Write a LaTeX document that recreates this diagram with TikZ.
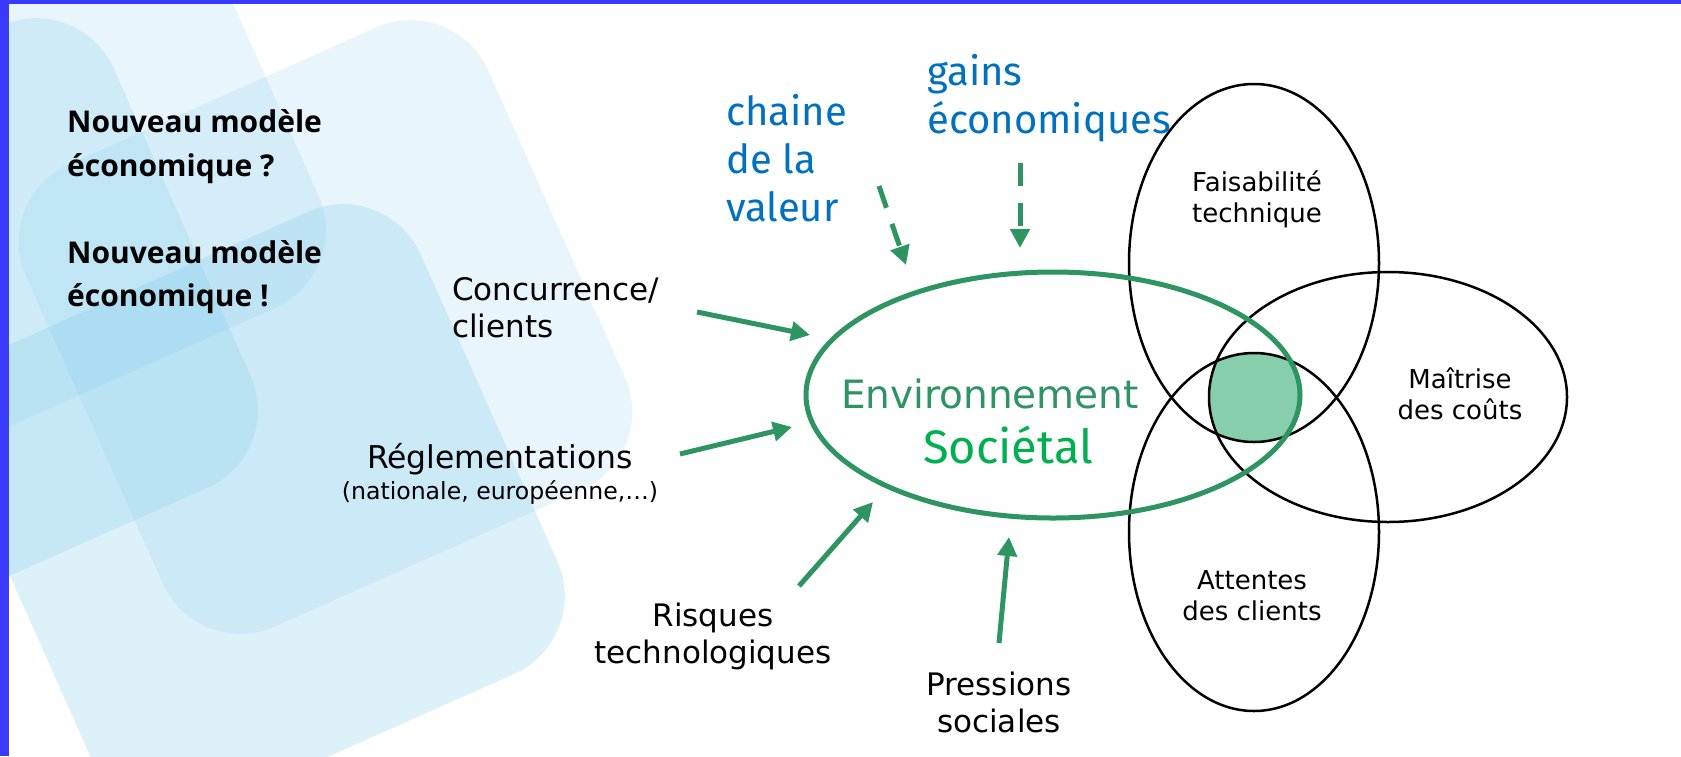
\documentclass[tikz,border=0pt]{standalone}
\usepackage{fontspec}
\setmainfont{DejaVu Sans}
\newfontfamily\firafont{Fira Sans}
\newfontfamily\boldfam{Open Sans}
\usetikzlibrary{arrows.meta}
\definecolor{framebl}{HTML}{3A3AFF}
\definecolor{deco}{HTML}{78C8EB}
\definecolor{arrgreen}{HTML}{2E9461}
\definecolor{socgreen}{HTML}{00B050}
\definecolor{fillgreen}{HTML}{86CEAC}
\definecolor{txtblue}{HTML}{0070C0}
\newcommand\cstack[1]{\vtop{\halign{\hfil##\hfil\cr#1\crcr}}}
\newcommand\lstack[1]{\vtop{\halign{##\hfil\cr#1\crcr}}}
\tikzset{
  decosq/.style={fill=deco, fill opacity=#1, rounded corners=85pt},
  venn/.style={draw=black, line width=2.5pt},
  envring/.style={draw=arrgreen, line width=5pt},
  push/.style={draw=arrgreen, line width=5pt, -{Triangle[length=19pt,width=19pt]}},
  dpush/.style={push, dash pattern=on 23pt off 17pt},
  lbl/.style={inner sep=0pt, font=\fontsize{31}{37}\selectfont},
  small/.style={inner sep=0pt, font=\fontsize{23.6}{31}\selectfont},
  vlbl/.style={inner sep=0pt, font=\fontsize{26}{31}\selectfont},
  bluelbl/.style={inner sep=0pt, text=txtblue, font=\firafont\fontsize{40}{48}\selectfont},
  boldlbl/.style={inner sep=0pt, font=\boldfam\bfseries\fontsize{30}{43.5}\selectfont},
}
\begin{document}
\begin{tikzpicture}[x=1pt,y=-1pt]
\useasboundingbox (0,0) rectangle (1681,756);
\fill[white] (0,0) rectangle (1681,756);
% background decoration: translucent rotated rounded squares
\begin{scope}
\clip (8,4) rectangle (1681,756);
\foreach \cx/\cy/\op in {19/145/0.165, -49/325/0.22, 325.5/327/0.165, 258/511/0.25} {
  \fill[decosq=\op, shift={(\cx,\cy)}, rotate=24] (-253,-253) rectangle (253,253);
}
\end{scope}
\fill[framebl] (0,0) rectangle (8.5,756);
\fill[framebl] (0,0) rectangle (1681,4);

% left titles
\node[boldlbl, anchor=base west] (q1) at (67,132.6) {\lstack{Nouveau modèle\cr économique ?}};
\node[boldlbl, anchor=base west] (q2) at (67,263) {\lstack{Nouveau modèle\cr économique !}};

% Venn intersection fill
\begin{scope}
\clip (1254,263) ellipse [x radius=125, y radius=179];
\clip (1254,532) ellipse [x radius=125, y radius=179];
\clip (1388,397) ellipse [x radius=179, y radius=125];
\fill[fillgreen] (1053,395) ellipse [x radius=247, y radius=123];
\end{scope}
\draw[venn] (1254,263) ellipse [x radius=125, y radius=179];
\draw[venn] (1254,532) ellipse [x radius=125, y radius=179];
\draw[venn] (1388,397) ellipse [x radius=179, y radius=125];
\draw[envring] (1053,395) ellipse [x radius=247, y radius=123];

% Venn labels
\node[vlbl, anchor=base] (feas) at (1257,191) {\cstack{Faisabilité\cr technique}};
\node[vlbl, anchor=base] (cost) at (1460,388) {\cstack{Maîtrise\cr des coûts}};
\node[vlbl, anchor=base] (expect) at (1252,589) {\cstack{Attentes\cr des clients}};

% centre
\node[inner sep=0pt, anchor=base, text=arrgreen, font=\fontsize{39}{45}\selectfont] (env) at (990,408) {Environnement};
\node[inner sep=0pt, anchor=base, text=socgreen, font=\firafont\fontsize{47}{50}\selectfont] (soc) at (1008,463) {Sociétal};

% influences
\node[lbl, anchor=base west] (conc) at (452,300) {\lstack{Concurrence/\cr clients}};
\node[lbl, anchor=base, font=\fontsize{31.4}{37}\selectfont] (regl) at (500,468) {Réglementations};
\node[small, anchor=base] (reglsub) at (500,499) {(nationale, européenne,…)};
\node[lbl, anchor=base] (risk) at (713,626) {\cstack{Risques\cr technologiques}};
\node[lbl, anchor=base] (press) at (999,695) {\cstack{Pressions\cr sociales}};
\node[bluelbl, anchor=base west] (chain) at (726,125) {\lstack{chaine\cr de la\cr valeur}};
\node[bluelbl, anchor=base west] (gains) at (927,85) {\lstack{gains\cr économiques}};

% arrows
\coordinate (c1s) at (697,312); \coordinate (c1e) at (810,335);
\coordinate (r1s) at (680,454); \coordinate (r1e) at (792,427);
\coordinate (k1s) at (799,586); \coordinate (k1e) at (873,502);
\coordinate (p1s) at (999,643); \coordinate (p1e) at (1009,537);
\coordinate (v1s) at (879,186); \coordinate (v1e) at (906,265);
\coordinate (g1s) at (1020,163); \coordinate (g1e) at (1020,248);
\draw[push] (c1s) -- (c1e);
\draw[push] (r1s) -- (r1e);
\draw[push] (k1s) -- (k1e);
\draw[push] (p1s) -- (p1e);
\draw[dpush] (v1s) -- (v1e);
\draw[dpush] (g1s) -- (g1e);
\end{tikzpicture}
\end{document}
